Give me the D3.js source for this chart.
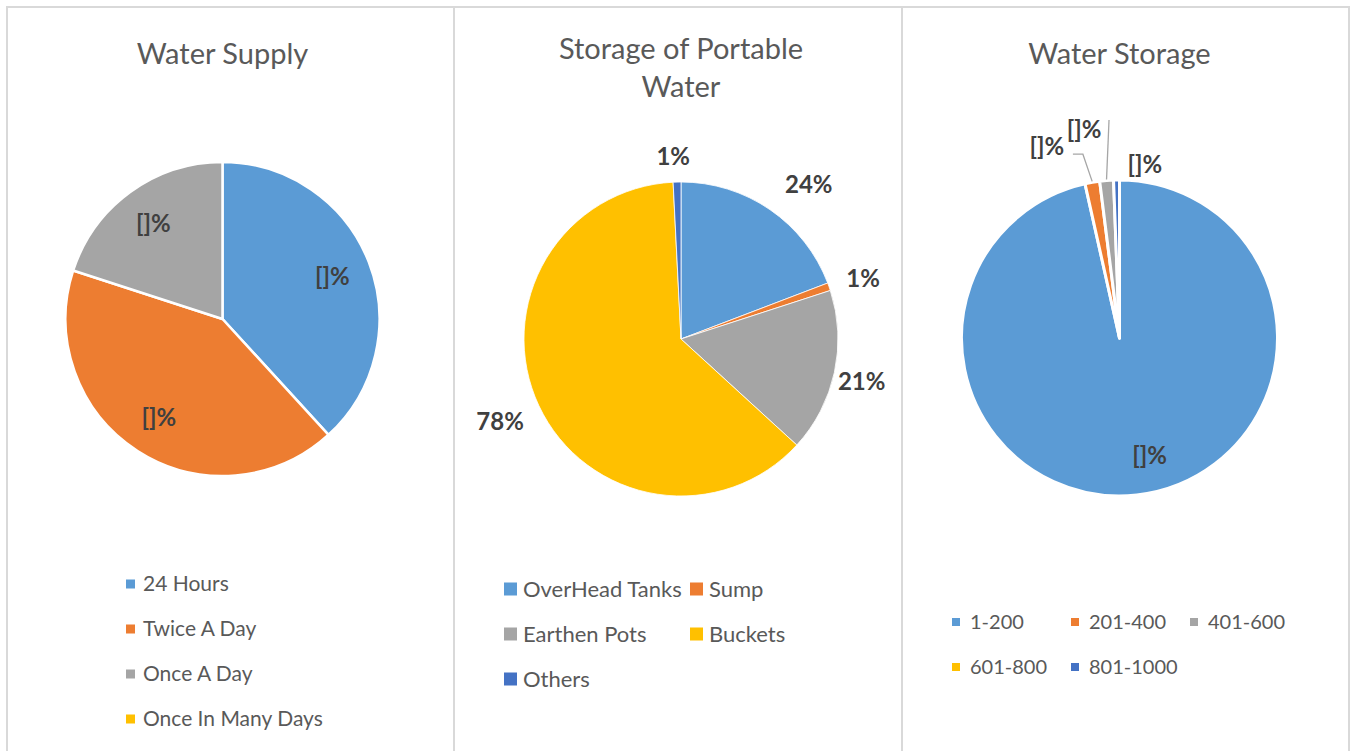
<!DOCTYPE html>
<html>
<head>
<meta charset="utf-8">
<script src="https://cdn.jsdelivr.net/npm/d3@7"></script>
<style>
  html, body { margin: 0; padding: 0; background: #ffffff; }
  svg { display: block; }
  text { font-family: Lato, "Noto Sans", sans-serif; }
</style>
</head>
<body>
<svg id="chart" width="1354" height="751"></svg>
<script>
// ---- data ----
const palette = ["#5B9BD5", "#ED7D31", "#A5A5A5", "#FFC000", "#4472C4"];

const supplyTitle = ["Water Supply"];
const supplyCategories = ["24 Hours", "Twice A Day", "Once A Day", "Once In Many Days"];
const supplyValues = [38.2, 41.8, 20.0, 0];
const supplyLabels = ["[]%", "[]%", "[]%", ""];

const portableTitle = ["Storage of Portable", "Water"];
const portableCategories = ["OverHead Tanks", "Sump", "Earthen Pots", "Buckets", "Others"];
const portableValues = [24, 1, 21, 78, 1];
const portableLabels = portableValues.map(v => v + "%");

const storageTitle = ["Water Storage"];
const storageCategories = ["1-200", "201-400", "401-600", "601-800", "801-1000"];
const storageValues = [96.5, 1.5, 1.4, 0, 0.6];
const storageLabels = ["[]%", "[]%", "[]%", "", "[]%"];

// ---- layout ----
const svg = d3.select("#chart");
const W = 1354, H = 751;
const gridColor = "#D9D9D9";
const textColor = "#595959";
const labelColor = "#404040";

// frame and panel dividers
svg.append("rect").attr("x", 7).attr("y", 7).attr("width", 1342).attr("height", 800)
  .attr("fill", "none").attr("stroke", gridColor).attr("stroke-width", 2);
[454, 902].forEach(x => svg.append("line").attr("x1", x).attr("x2", x).attr("y1", 7).attr("y2", H)
  .attr("stroke", gridColor).attr("stroke-width", 2));

function drawPanel(cfg) {
  const g = svg.append("g");
  // title
  const title = g.append("text").attr("text-anchor", "middle").attr("fill", textColor)
    .attr("font-size", 29);
  cfg.title.forEach((line, i) => title.append("tspan").attr("x", cfg.cx).attr("y", cfg.titleY + i * 38).text(line));

  const cscale = d3.scaleOrdinal().domain(cfg.categories).range(palette);
  const pie = d3.pie().sort(null).value(d => d.value);
  const data = pie(cfg.categories.map((c, i) => ({ cat: c, value: cfg.values[i], label: cfg.labels[i], idx: i })));
  const arc = d3.arc().innerRadius(0).outerRadius(cfg.r);

  const pg = g.append("g").attr("transform", `translate(${cfg.cx},${cfg.cy})`);
  pg.selectAll("path.slice").data(data.filter(d => d.data.value > 0)).join("path")
    .attr("class", "slice")
    .attr("d", arc)
    .attr("fill", d => cscale(d.data.cat))
    .attr("stroke", "#ffffff")
    .attr("stroke-width", cfg.strokeW)
    .attr("stroke-linejoin", "round");

  // data labels
  const edgeArc = d3.arc().innerRadius(cfg.r + 1).outerRadius(cfg.r + 1);
  data.forEach(d => {
    if (!d.data.label) return;
    const nudge = cfg.nudges[d.data.idx] || [0, 0];
    const lr = cfg.labelRadii ? cfg.labelRadii[d.data.idx] : cfg.labelR;
    const la = d3.arc().innerRadius(cfg.r * lr).outerRadius(cfg.r * lr);
    const [bx, by] = la.centroid(d);
    const lx = bx + nudge[0], ly = by + nudge[1];
    const lead = cfg.leaders && cfg.leaders[d.data.idx];
    if (lead) {
      const [ex, ey] = edgeArc.centroid(d);
      const end = [lx + lead[0], ly + lead[1]];
      const pts = lead[2] ? [[ex, ey], [end[0] + lead[2], end[1]], end] : [[ex, ey], end];
      pg.append("path").attr("d", d3.line()(pts)).attr("fill", "none")
        .attr("stroke", "#A6A6A6").attr("stroke-width", 1.3);
    }
    pg.append("text").attr("x", lx).attr("y", ly).attr("dy", "0.35em")
      .attr("text-anchor", "middle").attr("font-weight", "bold").attr("font-size", 24)
      .attr("fill", labelColor).text(d.data.label);
  });

  // legend
  const lg = g.append("g");
  cfg.legendPos.forEach((p, i) => {
    const item = lg.append("g").attr("transform", `translate(${p[0]},${p[1]})`);
    item.append("rect").attr("x", 0).attr("y", -cfg.sw / 2).attr("width", cfg.sw).attr("height", cfg.sw)
      .attr("fill", cscale(cfg.categories[i]));
    item.append("text").attr("x", cfg.textGap).attr("y", 0).attr("dy", "0.35em")
      .attr("font-size", cfg.legendFont).attr("fill", textColor).text(cfg.categories[i]);
  });
}

drawPanel({
  title: supplyTitle, titleY: 64, cx: 222.5, cy: 319, r: 157,
  categories: supplyCategories, values: supplyValues, labels: supplyLabels,
  strokeW: 2.5, labelR: 0.75, nudges: [[0, 0], [0, 0], [0, 0]],
  sw: 9, textGap: 17, legendFont: 21,
  legendPos: [[126, 584], [126, 629], [126, 674], [126, 719]]
});

drawPanel({
  title: portableTitle, titleY: 59, cx: 681, cy: 339, r: 157,
  categories: portableCategories, values: portableValues, labels: portableLabels,
  strokeW: 0.8, labelR: 1.21, nudges: [[20, 2], [3, 3], [-5, 2], [-9, 2], [-3, 7]],
  sw: 13, textGap: 19, legendFont: 22,
  legendPos: [[504, 589], [690, 589], [504, 634], [690, 634], [504, 679]]
});

drawPanel({
  title: storageTitle, titleY: 64, cx: 1119.5, cy: 338, r: 158,
  categories: storageCategories, values: storageValues, labels: storageLabels,
  strokeW: 3, labelR: 0.75, labelRadii: [0.75, 1.2, 1.2, 1.2, 1.2],
  nudges: [[17, 0], [-40, -5], [-20, -19], [0, 0], [29, 16]],
  leaders: [null, [26, 8, 10], [25, -10, 0], null, null],
  sw: 8, textGap: 18, legendFont: 20,
  legendPos: [[952, 622], [1071, 622], [1190, 622], [952, 667], [1071, 667]]
});
</script>
</body>
</html>
